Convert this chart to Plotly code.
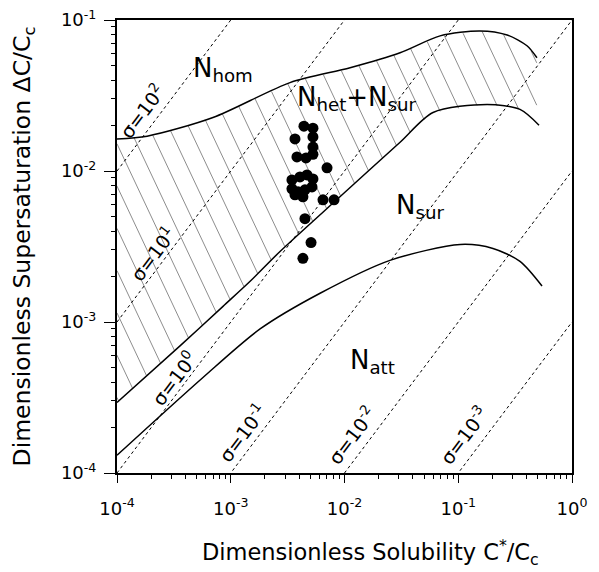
import numpy as np
import plotly.graph_objects as go

# ---- data ----
upper_x = [1.00e-4, 1.84e-4, 6.98e-4, 3.32e-3, 1.12e-2, 3.08e-2, 6.92e-2, 1.55e-1, 2.69e-1, 4.02e-1, 4.92e-1]
upper_y = [1.63e-2, 1.70e-2, 2.26e-2, 3.85e-2, 4.83e-2, 6.07e-2, 7.85e-2, 8.47e-2, 7.96e-2, 6.75e-2, 5.62e-2]

middle_x = [1.00e-4, 3.58e-4, 8.55e-4, 1.48e-3, 2.71e-3, 9.12e-3, 3.08e-2, 6.00e-2, 1.79e-1, 3.49e-1, 5.13e-1]
middle_y = [2.93e-4, 6.95e-4, 1.27e-3, 1.86e-3, 2.93e-3, 6.75e-3, 1.55e-2, 2.44e-2, 2.76e-2, 2.56e-2, 2.01e-2]

lower_x = [1.00e-4, 5.70e-4, 1.81e-3, 6.10e-3, 2.51e-2, 1.04e-1, 2.02e-1, 3.49e-1, 5.45e-1]
lower_y = [1.31e-4, 4.29e-4, 8.99e-4, 1.55e-3, 2.56e-3, 3.26e-3, 3.07e-3, 2.52e-3, 1.73e-3]

data_x = [4.40e-3, 5.28e-3, 3.67e-3, 5.28e-3, 5.28e-3, 3.82e-3, 4.59e-3, 5.28e-3, 7.02e-3,
          3.45e-3, 4.06e-3, 4.68e-3, 5.28e-3, 3.45e-3, 3.90e-3, 4.49e-3, 5.18e-3, 3.67e-3,
          4.31e-3, 6.47e-3, 8.09e-3, 4.49e-3, 5.08e-3, 4.31e-3]
data_y = [1.98e-2, 1.92e-2, 1.63e-2, 1.68e-2, 1.44e-2, 1.24e-2, 1.22e-2, 1.29e-2, 1.05e-2,
          8.73e-3, 9.14e-3, 9.42e-3, 8.86e-3, 7.62e-3, 7.28e-3, 7.50e-3, 7.85e-3, 6.95e-3,
          6.74e-3, 6.44e-3, 6.44e-3, 4.83e-3, 3.36e-3, 2.64e-3]

sigma_exps = [2, 1, 0, -1, -2, -3]
sigma_label_x = [1.66e-4, 2.04e-4, 3.16e-4, 1.26e-3, 1.16e-2, 1.12e-1]
sigma_label_y = [2.48e-2, 2.84e-3, 4.29e-4, 1.83e-4, 1.78e-4, 1.78e-4]

region_labels = ["N<sub>hom</sub>", "N<sub>het</sub>+N<sub>sur</sub>", "N<sub>sur</sub>", "N<sub>att</sub>"]
region_x = [8.6e-4, 1.30e-2, 4.6e-2, 1.78e-2]
region_y = [4.7e-2, 3.0e-2, 5.8e-3, 5.45e-4]

tick_exps_x = [-4, -3, -2, -1, 0]
tick_exps_y = [-4, -3, -2, -1]

x_title = "Dimensionless Solubility C<sup>*</sup>/C<sub>c</sub>"
y_title = "Dimensionless Supersaturation ΔC/C<sub>c</sub>"

FONT = "DejaVu Sans"
fig = go.Figure()

# hatching between upper and middle curves
lxu, lyu = np.log10(upper_x), np.log10(upper_y)
lxm, lym = np.log10(middle_x), np.log10(middle_y)
grid = np.linspace(-4, -0.31, 1500)
yu = np.interp(grid, lxu, lyu)
ym = np.interp(grid, lxm, lym)
slope = -1.6
hx, hy = [], []
for c in np.arange(-9.9, -1.2, 0.28):
    ly = c + slope * grid
    m = (ly <= yu) & (ly >= ym)
    idx = np.where(m)[0]
    if len(idx) < 2:
        continue
    breaks = np.where(np.diff(idx) > 1)[0]
    for s in np.split(idx, breaks + 1):
        if len(s) < 2:
            continue
        hx += [10 ** grid[s[0]], 10 ** grid[s[-1]], None]
        hy += [10 ** ly[s[0]], 10 ** ly[s[-1]], None]
fig.add_trace(go.Scatter(x=hx, y=hy, mode="lines", line=dict(color="#707070", width=0.8),
                         hoverinfo="skip", showlegend=False))

# sigma iso-lines  (dC/Cc = sigma * C*/Cc)
xs = np.array([1e-4, 1.0])
for e in sigma_exps:
    fig.add_trace(go.Scatter(x=xs, y=(10.0 ** e) * xs, mode="lines",
                             line=dict(color="black", width=1, dash="dot"),
                             showlegend=False, hoverinfo="skip"))

for cx, cy in [(upper_x, upper_y), (middle_x, middle_y), (lower_x, lower_y)]:
    fig.add_trace(go.Scatter(x=cx, y=cy, mode="lines",
                             line=dict(color="black", width=1.5, shape="spline", smoothing=0.8),
                             showlegend=False))

fig.add_trace(go.Scatter(x=data_x, y=data_y, mode="markers",
                         marker=dict(color="black", size=11), showlegend=False))

for e, x, y in zip(sigma_exps, sigma_label_x, sigma_label_y):
    fig.add_annotation(x=np.log10(x), y=np.log10(y), xref="x", yref="y",
                       text="σ=10<sup>%d</sup>" % e, showarrow=False, textangle=-53,
                       font=dict(family=FONT, size=19, color="black"))

for t, x, y in zip(region_labels, region_x, region_y):
    fig.add_annotation(x=np.log10(x), y=np.log10(y), xref="x", yref="y", text=t,
                       showarrow=False, font=dict(family=FONT, size=26, color="black"))

# x-axis title (slightly right of the plot centre, as in the reference)
fig.add_annotation(xref="paper", yref="paper", x=0.558, y=-0.176, yanchor="middle",
                   text=x_title, showarrow=False,
                   font=dict(family=FONT, size=22.5, color="black"))

minor_vals = [k * 10.0 ** e for e in range(-4, 0) for k in range(2, 10)]

axis_common = dict(type="log", showgrid=False, zeroline=False, showline=True, mirror=True,
                   linecolor="black", linewidth=2, ticks="outside", tickcolor="black",
                   automargin=False, ticklabeloverflow="allow",
                   tickfont=dict(family=FONT, size=18, color="black"),
                   minor=dict(ticks="outside", ticklen=4, tickcolor="black", showgrid=False,
                              tickvals=minor_vals))

fig.update_xaxes(**axis_common, range=[-4.00001, 0.00001], ticklen=8, ticklabelstandoff=10,
                 tickvals=[10.0 ** e for e in tick_exps_x],
                 ticktext=["10<sup>%d</sup>" % e for e in tick_exps_x])
fig.update_yaxes(**axis_common, range=[-4.00001, -0.99999], ticklen=11, ticklabelstandoff=4,
                 tickvals=[10.0 ** e for e in tick_exps_y],
                 ticktext=["10<sup>%d</sup>" % e for e in tick_exps_y],
                 title=dict(text=y_title, font=dict(family=FONT, size=23.5, color="black"),
                            standoff=36))

# the page body adds an 8 px offset, so margins are reduced on the left/top
fig.update_layout(width=599, height=572, margin=dict(l=109, r=35, t=12, b=107),
                  plot_bgcolor="white", paper_bgcolor="white", showlegend=False)

fig.write_html("out.html")
